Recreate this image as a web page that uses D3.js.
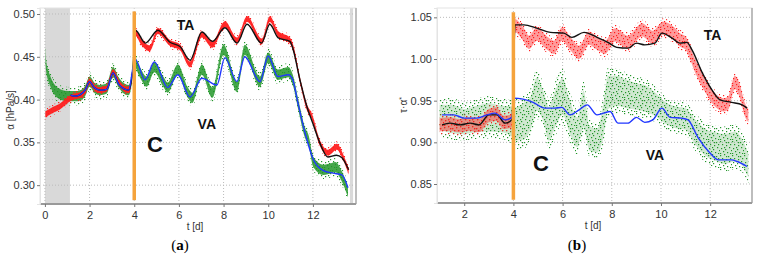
<!DOCTYPE html>
<html>
<head>
<meta charset="utf-8">
<script src="https://cdn.jsdelivr.net/npm/d3@7"></script>
<style>
  body { margin: 0; background: #fff; }
  svg text { font-family: "Liberation Sans", Arial, sans-serif; }
</style>
</head>
<body>
<svg id="chart" width="762" height="255"></svg>
<script>
//* I.
// (a) alpha, left panel
const taMeasA_t = [0.02, 0.1, 0.37, 0.67, 0.9, 1.1, 1.35, 1.57, 1.8, 2.0, 2.25, 2.46, 2.77, 3.05, 3.3, 3.45, 3.75, 3.9, 3.97, 4.05, 4.3, 4.7, 5.06, 5.6, 6.05, 6.5, 7.03, 7.5, 8.06, 8.6, 9.05, 9.72, 10.07, 10.43, 10.97, 11.1, 11.42, 11.73, 11.96, 12.3, 12.67, 13.07, 13.35, 13.6];
const taMeasA_v = [0.383, 0.384, 0.388, 0.392, 0.397, 0.401, 0.404, 0.405, 0.410, 0.421, 0.413, 0.411, 0.413, 0.432, 0.420, 0.415, 0.411, 0.427, 0.440, 0.478, 0.468, 0.460, 0.480, 0.466, 0.461, 0.441, 0.476, 0.464, 0.488, 0.469, 0.494, 0.468, 0.494, 0.477, 0.469, 0.462, 0.423, 0.391, 0.380, 0.350, 0.338, 0.345, 0.333, 0.316];
const taModelA_t = [1.15, 1.4, 1.6, 1.8, 2.0, 2.2, 2.46, 2.77, 3.05, 3.3, 3.5, 3.75, 3.95, 4.05, 4.5, 5.06, 5.6, 6.05, 6.5, 7.03, 7.5, 8.06, 8.6, 9.05, 9.7, 10.07, 10.45, 10.97, 11.1, 11.42, 11.73, 12.0, 12.3, 12.67, 13.05, 13.3, 13.6];
const taModelA_v = [0.405, 0.404, 0.406, 0.411, 0.421, 0.414, 0.411, 0.412, 0.431, 0.418, 0.413, 0.411, 0.438, 0.481, 0.466, 0.481, 0.467, 0.462, 0.446, 0.479, 0.468, 0.484, 0.466, 0.488, 0.466, 0.488, 0.472, 0.468, 0.460, 0.423, 0.392, 0.372, 0.350, 0.333, 0.335, 0.332, 0.318];
const vaMeasA_t = [0.02, 0.05, 0.22, 0.45, 0.8, 1.1, 1.35, 1.57, 1.8, 2.0, 2.25, 2.46, 2.77, 3.05, 3.3, 3.45, 3.75, 3.9, 3.97, 4.25, 4.55, 4.9, 5.3, 5.5, 5.95, 6.4, 6.6, 7.03, 7.5, 8.0, 8.6, 8.95, 9.63, 10.0, 10.43, 10.9, 11.1, 11.33, 11.65, 11.8, 12.02, 12.47, 12.85, 13.0, 13.3, 13.57];
const vaMeasA_v = [0.455, 0.440, 0.423, 0.411, 0.405, 0.404, 0.404, 0.405, 0.410, 0.421, 0.413, 0.411, 0.413, 0.432, 0.420, 0.415, 0.411, 0.427, 0.446, 0.432, 0.421, 0.438, 0.421, 0.414, 0.435, 0.408, 0.402, 0.435, 0.408, 0.458, 0.415, 0.458, 0.421, 0.449, 0.429, 0.432, 0.423, 0.396, 0.361, 0.353, 0.327, 0.318, 0.320, 0.321, 0.310, 0.292];
const vaModelA_t = [1.15, 1.4, 1.6, 1.8, 2.0, 2.2, 2.46, 2.77, 3.05, 3.3, 3.5, 3.75, 3.95, 4.05, 4.48, 4.9, 5.5, 5.95, 6.5, 7.03, 7.7, 8.06, 8.6, 8.95, 9.63, 10.0, 10.43, 10.9, 11.1, 11.33, 11.65, 12.02, 12.47, 12.9, 13.3, 13.57];
const vaModelA_v = [0.405, 0.404, 0.406, 0.411, 0.421, 0.414, 0.411, 0.412, 0.431, 0.418, 0.413, 0.411, 0.438, 0.447, 0.423, 0.444, 0.414, 0.429, 0.403, 0.425, 0.417, 0.449, 0.421, 0.450, 0.421, 0.451, 0.427, 0.429, 0.423, 0.396, 0.361, 0.330, 0.317, 0.314, 0.312, 0.297];
const taSpreadA = 0.0035;
const vaSpreadA = 0.006;

// (b) tau * alpha*, right panel
const taMeasB_t = [1.0, 1.4, 1.8, 2.2, 2.6, 3.0, 3.3, 3.6, 3.95, 4.05, 4.4, 4.63, 4.95, 5.37, 5.65, 5.98, 6.3, 6.67, 7.07, 7.4, 7.72, 8.13, 8.66, 9.23, 9.67, 10.08, 10.5, 10.77, 11.0, 11.4, 11.8, 12.13, 12.55, 12.73, 13.0, 13.2, 13.4, 13.55];
const taMeasB_v = [0.921, 0.922, 0.920, 0.922, 0.920, 0.932, 0.934, 0.924, 0.926, 1.040, 1.030, 1.020, 1.030, 1.019, 1.014, 1.030, 1.019, 1.008, 1.025, 1.019, 1.014, 1.029, 1.020, 1.035, 1.026, 1.037, 1.031, 1.023, 1.019, 0.991, 0.968, 0.953, 0.945, 0.947, 0.972, 0.962, 0.940, 0.932];
const taModelB_t = [1.1, 1.42, 1.83, 2.24, 2.6, 3.0, 3.33, 3.66, 3.94, 4.07, 4.43, 4.95, 5.5, 6.05, 6.38, 6.87, 7.4, 7.84, 8.2, 8.66, 9.0, 9.34, 9.75, 10.04, 10.45, 10.77, 11.05, 11.26, 11.67, 12.07, 12.4, 12.87, 13.3, 13.5];
const taModelB_v = [0.921, 0.923, 0.921, 0.923, 0.921, 0.933, 0.933, 0.923, 0.927, 1.041, 1.041, 1.037, 1.032, 1.031, 1.026, 1.032, 1.026, 1.020, 1.014, 1.013, 1.019, 1.017, 1.019, 1.031, 1.025, 1.019, 1.020, 1.011, 0.984, 0.963, 0.951, 0.948, 0.945, 0.941];
const vaMeasB_t = [1.0, 1.5, 2.0, 2.5, 3.0, 3.5, 3.95, 4.05, 4.4, 4.7, 4.95, 5.2, 5.45, 5.7, 6.0, 6.3, 6.6, 6.85, 7.1, 7.4, 7.65, 7.85, 8.2, 8.6, 9.0, 9.4, 9.8, 10.2, 10.6, 11.0, 11.4, 11.8, 12.2, 12.6, 13.0, 13.3, 13.55];
const vaMeasB_v = [0.930, 0.928, 0.925, 0.928, 0.930, 0.928, 0.925, 0.922, 0.925, 0.935, 0.958, 0.945, 0.922, 0.940, 0.955, 0.930, 0.912, 0.940, 0.905, 0.902, 0.925, 0.960, 0.962, 0.958, 0.955, 0.952, 0.945, 0.935, 0.930, 0.928, 0.912, 0.900, 0.895, 0.892, 0.895, 0.888, 0.872];
const vaMeasB_w = [0.015, 0.017, 0.015, 0.016, 0.017, 0.016, 0.018, 0.020, 0.022, 0.020, 0.020, 0.018, 0.020, 0.022, 0.022, 0.020, 0.018, 0.022, 0.015, 0.014, 0.020, 0.020, 0.018, 0.017, 0.016, 0.016, 0.014, 0.013, 0.013, 0.013, 0.015, 0.016, 0.017, 0.018, 0.018, 0.016, 0.014];
const vaModelB_t = [1.1, 1.58, 2.0, 2.5, 2.93, 3.25, 3.66, 3.94, 4.02, 4.8, 5.28, 5.69, 5.97, 6.3, 6.67, 7.0, 7.4, 7.93, 8.25, 8.66, 9.0, 9.34, 9.67, 10.04, 10.37, 10.85, 11.1, 11.5, 12.0, 12.33, 12.87, 13.1, 13.5];
const vaModelB_v = [0.933, 0.933, 0.929, 0.929, 0.933, 0.935, 0.927, 0.930, 0.953, 0.948, 0.941, 0.941, 0.942, 0.933, 0.939, 0.945, 0.933, 0.937, 0.923, 0.923, 0.930, 0.924, 0.927, 0.941, 0.930, 0.929, 0.927, 0.906, 0.887, 0.879, 0.879, 0.877, 0.871];
const taSpreadB = 0.008;

// axis ticks
const tTicksA = [0, 2, 4, 6, 8, 10, 12];
const tTicksB = [2, 4, 6, 8, 10, 12];
const vTicksA = [0.30, 0.35, 0.40, 0.45, 0.50];
const vTicksB = [0.85, 0.90, 0.95, 1.00, 1.05];

const colors = { ta: "#ff1f1f", va: "#23962a", taModel: "#111", vaModel: "#2137ff", change: "#f5a33c", shade: "#d9d9d9" };

const svg = d3.select("#chart");
const defs = svg.append("defs");

// irregular dot tile so the measured bands read as scattered samples
const dotTile = [[0, 1], [4, 0], [8, 2], [2, 4], [6, 5], [10, 4], [1, 8], [5, 9], [9, 7], [3, 11], [7, 12], [11, 10], [0, 13], [10, 13], [6, 2], [4, 7]];
function dotPattern(id, color) {
  const p = defs.append("pattern")
    .attr("id", id)
    .attr("width", 12).attr("height", 14)
    .attr("patternUnits", "userSpaceOnUse");
  dotTile.forEach(([x, y]) =>
    p.append("rect").attr("x", x).attr("y", y).attr("width", 1.2).attr("height", 1.2).attr("fill", color));
}
dotPattern("dots-ta", colors.ta);
dotPattern("dots-va", colors.va);

const zip = (t, v, w) => t.map((d, i) => ({ t: d, v: v[i], w: Array.isArray(w) ? w[i] : w }));

//* II. Draw one panel
function drawPanel(cfg) {
  const x = d3.scaleLinear().domain(cfg.tDomain).range([cfg.left, cfg.right]);
  const y = d3.scaleLinear().domain(cfg.vDomain).range([cfg.bottom, cfg.top]);
  const g = svg.append("g");

  const clipId = "clip-" + cfg.id;
  defs.append("clipPath").attr("id", clipId)
    .append("rect")
      .attr("x", cfg.left).attr("y", cfg.top)
      .attr("width", cfg.right - cfg.left).attr("height", cfg.bottom - cfg.top);

  // shaded time windows
  g.selectAll(".shade")
    .data(cfg.shades)
    .enter().append("rect")
      .attr("x", d => x(d[0]))
      .attr("width", d => x(d[1]) - x(d[0]))
      .attr("y", cfg.top)
      .attr("height", cfg.bottom - cfg.top)
      .attr("fill", colors.shade);

  // dotted grid
  g.selectAll(".vgrid")
    .data(cfg.tTicks)
    .enter().append("line")
      .attr("x1", d => x(d)).attr("x2", d => x(d))
      .attr("y1", cfg.top).attr("y2", cfg.bottom)
      .attr("stroke", "#bbb").attr("stroke-dasharray", "1,2");
  g.selectAll(".hgrid")
    .data(cfg.vTicks)
    .enter().append("line")
      .attr("x1", cfg.left).attr("x2", cfg.right)
      .attr("y1", d => y(d)).attr("y2", d => y(d))
      .attr("stroke", "#bbb").attr("stroke-dasharray", "1,2");

  // frame
  g.append("rect")
    .attr("x", cfg.left).attr("y", cfg.top)
    .attr("width", cfg.right - cfg.left).attr("height", cfg.bottom - cfg.top)
    .attr("fill", "none").attr("stroke", "#e4e4e4");
  g.append("line")
    .attr("x1", cfg.right).attr("x2", cfg.right)
    .attr("y1", cfg.top).attr("y2", cfg.bottom)
    .attr("stroke", "#bdbdbd").attr("stroke-width", 2);

  // axes
  const xAxis = d3.axisBottom(x).tickValues(cfg.tTicks).tickSize(3).tickPadding(4).tickFormat(d3.format("d"));
  const yAxis = d3.axisLeft(y).tickValues(cfg.vTicks).tickSize(3).tickPadding(2).tickFormat(d3.format(".2f"));
  const xa = g.append("g").attr("transform", `translate(0,${cfg.bottom})`).call(xAxis);
  const ya = g.append("g").attr("transform", `translate(${cfg.left},0)`).call(yAxis);
  xa.select(".domain").attr("d", `M${cfg.left},0H${cfg.right}`).attr("stroke", "#999").attr("stroke-width", 2);
  ya.select(".domain").attr("stroke", "#e4e4e4");
  [xa, ya].forEach(a => {
    a.selectAll(".tick line").attr("stroke", "#777");
    a.selectAll(".tick text").attr("fill", "#333").attr("font-size", 11)
      .style("font-family", "'Liberation Sans', Arial, sans-serif");
  });

  const plot = g.append("g").attr("clip-path", `url(#${clipId})`);
  const area = d3.area()
    .x(d => x(d.t))
    .y0(d => y(d.v - d.w))
    .y1(d => y(d.v + d.w))
    .curve(d3.curveMonotoneX);
  const wideArea = d3.area()
    .x(d => x(d.t))
    .y0(d => y(d.v - d.w * cfg.halo))
    .y1(d => y(d.v + d.w * cfg.halo))
    .curve(d3.curveMonotoneX);
  const line = d3.line()
    .x(d => x(d.t))
    .y(d => y(d.v))
    .curve(d3.curveMonotoneX);

  // measured samples: fuzzy halo + denser core
  cfg.measured.forEach(s => {
    plot.append("path").datum(s.data)
      .attr("d", wideArea).attr("fill", `url(#dots-${s.key})`);
    plot.append("path").datum(s.data)
      .attr("d", area).attr("fill", colors[s.key]).attr("opacity", s.core);
  });

  // model curves
  cfg.models.forEach(s => {
    plot.append("path").datum(s.data)
      .attr("d", line).attr("fill", "none")
      .attr("stroke", colors[s.key]).attr("stroke-width", 1.4);
  });

  // time of change
  plot.append("line")
    .attr("x1", x(cfg.change.t)).attr("x2", x(cfg.change.t))
    .attr("y1", y(cfg.change.from)).attr("y2", y(cfg.change.to))
    .attr("stroke", colors.change).attr("stroke-width", 3.5);

  // annotations
  g.selectAll(".note")
    .data(cfg.notes)
    .enter().append("text")
      .attr("x", d => x(d.t))
      .attr("y", d => y(d.v))
      .attr("text-anchor", "middle")
      .attr("dominant-baseline", "central")
      .attr("font-weight", "bold")
      .attr("font-size", d => d.size)
      .attr("fill", "#111")
      .text(d => d.text);

  // axis titles
  g.append("text")
    .attr("x", cfg.xTitle[0]).attr("y", cfg.xTitle[1])
    .attr("text-anchor", "middle").attr("font-size", 10).attr("fill", "#333")
    .text("t [d]");
  const yt = g.append("text")
    .attr("transform", `translate(${cfg.yTitle[0]},${cfg.yTitle[1]}) rotate(-90)`)
    .attr("text-anchor", "middle").attr("font-size", 10).attr("fill", "#333");
  cfg.yTitleParts.forEach(p => {
    const ts = yt.append("tspan").text(p.text);
    if (p.sup) ts.attr("baseline-shift", "super").attr("font-size", 7);
  });

  // panel tag, e.g. (a)
  const tag = svg.append("text")
    .attr("x", cfg.tag[0]).attr("y", cfg.tag[1])
    .attr("text-anchor", "middle").attr("font-size", 15)
    .style("font-family", "'Liberation Serif', 'DejaVu Serif', serif");
  tag.append("tspan").text("(");
  tag.append("tspan").attr("font-weight", "bold").text(cfg.tagLetter);
  tag.append("tspan").text(")");
}

drawPanel({
  id: "a",
  left: 40, right: 356, top: 8, bottom: 204,
  tDomain: [-0.22, 13.93], vDomain: [0.278, 0.507],
  tTicks: tTicksA, vTicks: vTicksA,
  shades: [[0, 1.12], [13.66, 13.8]],
  halo: 1.8,
  measured: [
    { key: "va", data: zip(vaMeasA_t, vaMeasA_v, vaSpreadA), core: 0.85 },
    { key: "ta", data: zip(taMeasA_t, taMeasA_v, taSpreadA), core: 0.95 }
  ],
  models: [
    { key: "taModel", data: zip(taModelA_t, taModelA_v, 0) },
    { key: "vaModel", data: zip(vaModelA_t, vaModelA_v, 0) }
  ],
  change: { t: 4, from: 0.503, to: 0.2825 },
  notes: [
    { text: "TA", t: 6.3, v: 0.487, size: 14 },
    { text: "VA", t: 7.25, v: 0.372, size: 14 },
    { text: "C", t: 4.93, v: 0.348, size: 22 }
  ],
  xTitle: [195, 230], yTitle: [14, 110],
  yTitleParts: [{ text: "α [hPa/s]" }],
  tag: [180, 250], tagLetter: "a"
});

drawPanel({
  id: "b",
  left: 437, right: 752, top: 8, bottom: 203,
  tDomain: [0.894, 13.7], vDomain: [0.8272, 1.0612],
  tTicks: tTicksB, vTicks: vTicksB,
  shades: [],
  halo: 1.5,
  measured: [
    { key: "va", data: zip(vaMeasB_t, vaMeasB_v, vaMeasB_w), core: 0.22 },
    { key: "ta", data: zip(taMeasB_t, taMeasB_v, taSpreadB), core: 0.45 }
  ],
  models: [
    { key: "taModel", data: zip(taModelB_t, taModelB_v, 0) },
    { key: "vaModel", data: zip(vaModelB_t, vaModelB_v, 0) }
  ],
  change: { t: 4, from: 1.056, to: 0.831 },
  notes: [
    { text: "TA", t: 12.1, v: 1.029, size: 14 },
    { text: "VA", t: 9.75, v: 0.885, size: 14 },
    { text: "C", t: 5.12, v: 0.875, size: 22 }
  ],
  xTitle: [593, 229], yTitle: [407, 105],
  yTitleParts: [{ text: "τ·α" }, { text: "*", sup: true }],
  tag: [577, 250], tagLetter: "b"
});
</script>
</body>
</html>
